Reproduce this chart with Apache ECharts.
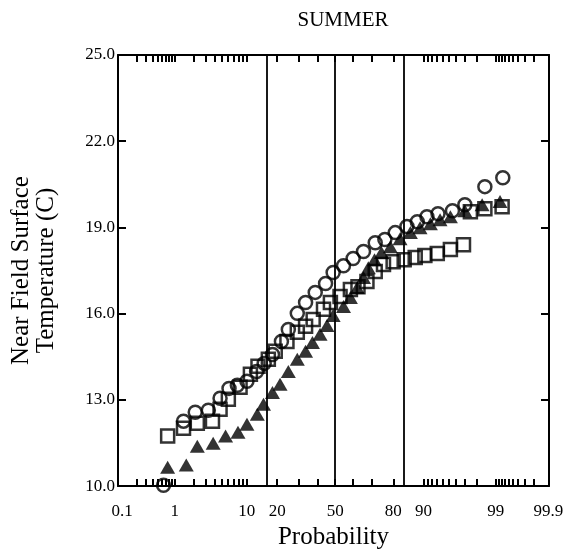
<!DOCTYPE html>
<html>
<head>
<meta charset="utf-8">
<script src="https://cdn.jsdelivr.net/npm/echarts@6/dist/echarts.min.js"></script>
<style>html,body{margin:0;padding:0;background:#fff;}#chart{width:568px;height:555px;}</style>
</head>
<body>
<div id="chart"></div>
<script>
// ---- data (x = normal score of plotting probability, y = temperature C) ----
const circleScore = [-2.49,-2.20,-2.03,-1.84,-1.67,-1.54,-1.42,-1.28,-1.14,-1.03,-0.91,-0.78,-0.68,-0.55,-0.43,-0.29,-0.14,-0.03,0.12,0.26,0.41,0.58,0.72,0.87,1.04,1.19,1.33,1.49,1.70,1.88,2.17,2.43];
const circleTemp  = [10.03,12.26,12.57,12.64,13.06,13.40,13.51,13.65,13.99,14.27,14.58,15.03,15.45,16.01,16.39,16.74,17.05,17.43,17.67,17.92,18.16,18.47,18.58,18.82,19.03,19.20,19.37,19.48,19.58,19.79,20.42,20.73];

const squareScore = [-2.43,-2.20,-2.00,-1.78,-1.67,-1.55,-1.38,-1.23,-1.12,-0.97,-0.87,-0.70,-0.55,-0.43,-0.32,-0.17,-0.07,0.07,0.22,0.33,0.46,0.58,0.70,0.84,1.00,1.16,1.30,1.48,1.67,1.86,1.96,2.17,2.42];
const squareTemp  = [11.74,12.01,12.19,12.26,12.67,13.02,13.44,13.89,14.17,14.41,14.69,15.03,15.35,15.56,15.80,16.15,16.39,16.60,16.84,16.94,17.12,17.47,17.71,17.81,17.88,17.95,18.02,18.09,18.23,18.40,19.55,19.65,19.72];

const triangleScore = [-2.43,-2.16,-2.00,-1.77,-1.59,-1.41,-1.28,-1.13,-1.04,-0.91,-0.80,-0.68,-0.55,-0.43,-0.33,-0.22,-0.12,-0.03,0.12,0.22,0.32,0.41,0.48,0.57,0.67,0.80,0.94,1.09,1.23,1.38,1.52,1.67,1.88,2.13,2.39];
const triangleTemp  = [10.66,10.73,11.39,11.49,11.74,11.87,12.15,12.50,12.85,13.26,13.54,13.99,14.41,14.69,15.00,15.28,15.59,15.94,16.25,16.56,16.91,17.26,17.60,17.88,18.13,18.33,18.61,18.82,18.99,19.13,19.27,19.37,19.58,19.79,19.90];

// probability axis (percent)
const labelProbs = [0.1, 1, 10, 20, 50, 80, 90, 99, 99.9];
const tickProbs = [0.2,0.3,0.4,0.5,0.6,0.7,0.8,0.9,1,2,3,4,5,6,7,8,9,10,20,30,40,50,60,70,80,90,91,92,93,94,95,96,97,98,99,99.1,99.2,99.3,99.4,99.5,99.6,99.7,99.8];
const refLineProbs = [15.87, 50, 84.13];

function probit(p) {
  const a=[-3.969683028665376e+01,2.209460984245205e+02,-2.759285104469687e+02,1.383577518672690e+02,-3.066479806614716e+01,2.506628277459239e+00];
  const b=[-5.447609879822406e+01,1.615858368580409e+02,-1.556989798598866e+02,6.680131188771972e+01,-1.328068155288572e+01];
  const c=[-7.784894002430293e-03,-3.223964580411365e-01,-2.400758277161838e+00,-2.549732539343734e+00,4.374664141464968e+00,2.938163982698783e+00];
  const d=[7.784695709041462e-03,3.224671290700398e-01,2.445134137142996e+00,3.754408661907416e+00];
  const pl=0.02425, ph=1-pl;
  let q, r;
  if (p < pl) {
    q = Math.sqrt(-2*Math.log(p));
    return (((((c[0]*q+c[1])*q+c[2])*q+c[3])*q+c[4])*q+c[5])/((((d[0]*q+d[1])*q+d[2])*q+d[3])*q+1);
  } else if (p <= ph) {
    q = p-0.5; r = q*q;
    return (((((a[0]*r+a[1])*r+a[2])*r+a[3])*r+a[4])*r+a[5])*q/(((((b[0]*r+b[1])*r+b[2])*r+b[3])*r+b[4])*r+1);
  } else {
    q = Math.sqrt(-2*Math.log(1-p));
    return -(((((c[0]*q+c[1])*q+c[2])*q+c[3])*q+c[4])*q+c[5])/((((d[0]*q+d[1])*q+d[2])*q+d[3])*q+1);
  }
}

const zip = (xs, ys) => xs.map((x, i) => [x, ys[i]]);
const labelValues = labelProbs.map(p => probit(p/100));
const tickValues = tickProbs.map(p => probit(p/100));
const FONT = '"Liberation Serif", "Times New Roman", Times, serif';

function probLabel(v) {
  let best = 0, bd = Infinity;
  labelValues.forEach((lv, i) => { const dd = Math.abs(lv - v); if (dd < bd) { bd = dd; best = i; } });
  return String(labelProbs[best]);
}

const chart = echarts.init(document.getElementById('chart'), null, {renderer: 'canvas'});
const axisCommon = {
  type: 'value', min: -3.15, max: 3.1,
  axisLine: {show: true, onZero: false, lineStyle: {color: '#000', width: 2}},
  axisTick: {show: true, inside: true, length: 7, customValues: tickValues, lineStyle: {color: '#000', width: 2}},
  splitLine: {show: false}
};
const yCommon = {
  type: 'value', min: 10, max: 25, interval: 3,
  axisLine: {show: true, onZero: false, lineStyle: {color: '#000', width: 2}},
  axisTick: {show: true, inside: true, length: 8, lineStyle: {color: '#000', width: 2}},
  splitLine: {show: false}
};

chart.setOption({
  animation: false,
  backgroundColor: '#fff',
  title: {
    text: 'SUMMER', left: 338, top: 5, textAlign: 'center',
    textStyle: {fontFamily: FONT, fontSize: 21, fontWeight: 'normal', color: '#000'}
  },
  grid: {left: 118, right: 19, top: 55, bottom: 68, containLabel: false},
  xAxis: [
    Object.assign({}, axisCommon, {
      position: 'bottom',
      name: 'Probability', nameLocation: 'middle', nameGap: 37,
      nameTextStyle: {fontFamily: FONT, fontSize: 25, color: '#000'},
      axisLabel: {show: true, customValues: labelValues, formatter: probLabel, margin: 17,
        fontFamily: FONT, fontSize: 17, color: '#000'}
    }),
    Object.assign({}, axisCommon, {position: 'top', axisLabel: {show: false}})
  ],
  yAxis: [
    Object.assign({}, yCommon, {
      position: 'left',
      name: 'Near Field Surface\nTemperature (C)', nameLocation: 'middle', nameGap: 59, nameRotate: 90,
      nameTextStyle: {fontFamily: FONT, fontSize: 25, lineHeight: 25, color: '#000'},
      axisLabel: {show: true, margin: 3, formatter: v => v.toFixed(1), padding: [0, 0, 8, 0],
        fontFamily: FONT, fontSize: 17, color: '#000'}
    }),
    Object.assign({}, yCommon, {position: 'right', axisLabel: {show: false}})
  ],
  series: [
    {
      name: 'squares', type: 'scatter', xAxisIndex: 0, yAxisIndex: 0,
      data: zip(squareScore, squareTemp),
      symbol: 'rect', symbolSize: 13,
      itemStyle: {color: 'rgba(255,255,255,0)', borderColor: '#000', borderWidth: 2.5},
      markLine: {
        silent: true, symbol: 'none', label: {show: false},
        lineStyle: {color: '#000', width: 1.8, type: 'solid'},
        data: refLineProbs.map(p => ({xAxis: probit(p/100)}))
      }
    },
    {
      name: 'triangles', type: 'scatter', xAxisIndex: 0, yAxisIndex: 0,
      data: zip(triangleScore, triangleTemp),
      symbol: 'triangle', symbolSize: [15, 13],
      itemStyle: {color: '#000'}
    },
    {
      name: 'circles', type: 'scatter', xAxisIndex: 0, yAxisIndex: 0,
      data: zip(circleScore, circleTemp),
      symbol: 'circle', symbolSize: 13,
      itemStyle: {color: 'rgba(255,255,255,0)', borderColor: '#000', borderWidth: 2.5}
    }
  ]
});
</script>
</body>
</html>
